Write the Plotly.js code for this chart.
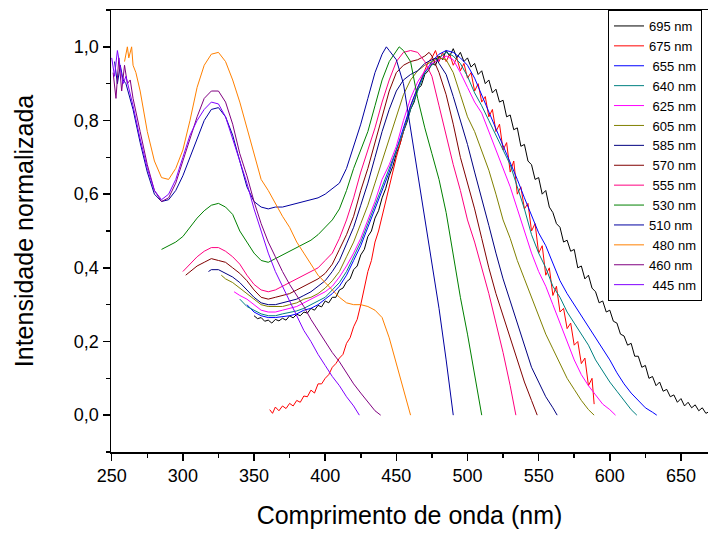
<!DOCTYPE html>
<html>
<head>
<meta charset="utf-8">
<script src="https://cdn.plot.ly/plotly-3.0.1.min.js"></script>
<style>html,body{margin:0;padding:0;background:#fff;}#chart{width:708px;height:534px;}</style>
</head>
<body>
<div id="chart"></div>
<script>
// Legend labels (emission wavelengths)
const names = ['695 nm','675 nm','\u00a0655 nm','\u00a0640 nm','\u00a0625 nm','\u00a0605 nm','\u00a0585 nm','\u00a0570 nm','\u00a0555 nm','\u00a0530 nm','510 nm','\u00a0480 nm','460 nm','\u00a0445 nm'];
const colors = ['#000000','#FF0000','#0000FF','#008080','#FF00FF','#808000','#000080','#800000','#FF0080','#008000','#0000A0','#FF8000','#800080','#8000FF'];

// 695 nm
const x695 = [350,352.5,355,357.5,360,362.5,365,367.5,370,372.5,375,377.5,380,382.5,385,387.5,390,392.5,395,397.5,400,402.5,405,407.5,410,412.5,415,417.5,420,422.5,425,427.5,430,432.5,435,437.5,440,442.5,445,447.5,450,452.5,455,457.5,460,462.5,465,467.5,470,472.5,475,477.5,480,482.5,485,487.5,490,492.5,495,497.5,500,502.5,505,507.5,510,512.5,515,517.5,520,522.5,525,527.5,530,532.5,535,537.5,540,542.5,545,547.5,550,552.5,555,557.5,560,562.5,565,567.5,570,572.5,575,577.5,580,582.5,585,587.5,590,592.5,595,597.5,600,602.5,605,607.5,610,612.5,615,617.5,620,622.5,625,627.5,630,632.5,635,637.5,640,642.5,645,647.5,650,652.5,655,657.5,660,662.5,665,667.5,670];
const y695 = [0.27,0.262,0.265,0.255,0.258,0.25,0.26,0.256,0.263,0.258,0.27,0.264,0.274,0.27,0.28,0.277,0.29,0.285,0.298,0.294,0.31,0.305,0.32,0.32,0.34,0.345,0.362,0.37,0.395,0.405,0.435,0.45,0.485,0.5,0.535,0.555,0.59,0.615,0.65,0.675,0.71,0.735,0.77,0.795,0.83,0.85,0.885,0.895,0.925,0.935,0.955,0.95,0.975,0.965,0.99,0.975,0.995,0.97,0.985,0.96,0.97,0.945,0.955,0.925,0.935,0.9,0.91,0.875,0.885,0.85,0.855,0.81,0.815,0.775,0.78,0.73,0.735,0.69,0.68,0.64,0.645,0.6,0.61,0.565,0.55,0.52,0.51,0.47,0.475,0.445,0.45,0.4,0.405,0.37,0.38,0.345,0.335,0.305,0.31,0.28,0.285,0.255,0.25,0.22,0.215,0.19,0.195,0.16,0.16,0.13,0.135,0.1,0.105,0.08,0.09,0.065,0.07,0.05,0.055,0.035,0.045,0.025,0.035,0.02,0.028,0.012,0.02,0.005,0.01];
// 675 nm
const x675 = [361,363,365,367.5,370,372.5,375,377.5,380,382.5,385,387.5,390,392.5,395,397.5,400,402.5,405,407.5,410,412.5,415,417.5,420,422.5,425,427.5,430,432.5,435,437.5,440,442.5,445,447.5,450,452.5,455,457.5,460,462.5,465,467.5,470,472.5,475,477.5,480,482.5,485,487.5,490,492.5,495,497.5,500,502.5,505,507.5,510,512.5,515,517.5,520,522.5,525,527.5,530,532.5,535,537.5,540,542.5,545,547.5,550,552.5,555,557.5,560,562.5,565,567.5,570,572.5,575,577.5,580,582.5,585,587.5,589];
const y675 = [0.015,0.005,0.022,0.012,0.025,0.018,0.032,0.025,0.04,0.035,0.052,0.05,0.068,0.06,0.085,0.085,0.1,0.11,0.13,0.14,0.155,0.165,0.195,0.21,0.24,0.26,0.3,0.345,0.39,0.42,0.47,0.5,0.54,0.585,0.62,0.66,0.70,0.735,0.77,0.81,0.84,0.865,0.89,0.915,0.94,0.96,0.97,0.99,0.96,0.985,0.96,0.98,0.95,0.97,0.935,0.955,0.915,0.93,0.88,0.9,0.85,0.865,0.81,0.83,0.77,0.79,0.72,0.74,0.66,0.69,0.6,0.62,0.56,0.575,0.5,0.52,0.44,0.46,0.38,0.4,0.325,0.35,0.28,0.29,0.235,0.25,0.19,0.2,0.14,0.155,0.08,0.1,0.03];
// 655 nm
const x655 = [345,350,355,360,365,370,375,380,385,390,395,400,405,410,415,420,425,430,435,440,445,450,455,460,465,470,475,480,485,490,495,500,505,510,515,520,525,530,535,540,545,550,555,560,565,570,575,580,585,590,595,600,605,610,615,620,625,630,633];
const y655 = [0.30,0.28,0.27,0.265,0.265,0.267,0.27,0.275,0.285,0.29,0.30,0.315,0.33,0.35,0.38,0.42,0.46,0.51,0.56,0.61,0.66,0.72,0.78,0.84,0.89,0.93,0.96,0.98,0.99,0.985,0.97,0.95,0.915,0.87,0.825,0.78,0.735,0.69,0.64,0.59,0.545,0.495,0.46,0.41,0.365,0.33,0.30,0.27,0.24,0.21,0.18,0.15,0.115,0.085,0.06,0.04,0.02,0.008,0.0];
// 640 nm
const x640 = [340,345,350,355,360,365,370,375,380,385,390,395,400,405,410,415,420,425,430,435,440,445,450,455,460,465,470,475,480,485,490,495,500,505,510,515,520,525,530,535,540,545,550,555,560,565,570,575,580,585,590,595,600,605,610,615,619];
const y640 = [0.315,0.295,0.285,0.275,0.27,0.27,0.275,0.278,0.283,0.29,0.30,0.31,0.32,0.34,0.36,0.39,0.43,0.47,0.52,0.57,0.62,0.67,0.72,0.77,0.83,0.88,0.93,0.95,0.97,0.985,0.975,0.955,0.92,0.875,0.84,0.80,0.76,0.72,0.68,0.62,0.56,0.49,0.44,0.40,0.35,0.32,0.28,0.25,0.22,0.19,0.15,0.12,0.09,0.065,0.04,0.015,0.0];
// 625 nm
const x625 = [336,340,345,350,355,360,365,370,375,380,385,390,395,400,405,410,415,420,425,430,435,440,445,450,455,460,465,470,475,480,485,490,495,500,505,510,515,520,525,530,535,540,545,550,555,560,565,570,575,580,585,590,595,600,604];
const y625 = [0.335,0.325,0.315,0.30,0.285,0.28,0.28,0.285,0.29,0.295,0.305,0.315,0.325,0.335,0.35,0.375,0.405,0.44,0.48,0.53,0.58,0.64,0.68,0.73,0.80,0.86,0.905,0.935,0.955,0.965,0.975,0.965,0.93,0.89,0.85,0.82,0.77,0.72,0.67,0.62,0.56,0.50,0.44,0.39,0.35,0.30,0.25,0.195,0.15,0.11,0.08,0.055,0.03,0.015,0.0];
// 605 nm
const x605 = [327,330,335,340,345,350,355,360,365,370,375,380,385,390,395,400,405,410,415,420,425,430,435,440,445,450,455,460,465,470,475,480,485,490,495,500,505,510,515,520,525,530,535,540,545,550,555,560,565,570,575,580,585,589];
const y605 = [0.38,0.37,0.36,0.345,0.33,0.315,0.30,0.295,0.295,0.295,0.30,0.305,0.315,0.32,0.33,0.345,0.365,0.39,0.43,0.47,0.52,0.57,0.63,0.69,0.75,0.81,0.87,0.91,0.935,0.95,0.96,0.97,0.965,0.93,0.87,0.81,0.77,0.72,0.665,0.60,0.53,0.48,0.42,0.37,0.32,0.27,0.22,0.18,0.14,0.10,0.07,0.04,0.015,0.0];
// 585 nm
const x585 = [318,320,325,330,335,340,345,350,355,360,365,370,375,380,385,390,395,400,405,410,415,420,425,430,435,440,445,450,455,460,465,470,475,478,480,485,490,495,500,505,510,515,520,525,530,535,540,545,550,555,560,563];
const y585 = [0.39,0.395,0.395,0.385,0.375,0.36,0.34,0.32,0.305,0.30,0.30,0.305,0.31,0.315,0.325,0.335,0.35,0.365,0.39,0.42,0.465,0.51,0.57,0.63,0.70,0.77,0.83,0.88,0.91,0.925,0.935,0.955,0.965,0.97,0.955,0.925,0.865,0.80,0.735,0.66,0.59,0.515,0.44,0.37,0.31,0.25,0.19,0.13,0.09,0.05,0.02,0.0];
// 570 nm
const x570 = [302,305,310,315,320,325,330,335,340,345,350,355,360,365,370,375,380,385,390,395,400,405,410,415,420,425,430,435,440,445,450,455,460,465,470,473,475,480,485,490,495,500,505,510,515,520,525,530,535,540,545,549];
const y570 = [0.38,0.39,0.405,0.415,0.425,0.42,0.415,0.40,0.385,0.365,0.34,0.32,0.315,0.32,0.325,0.33,0.34,0.35,0.36,0.37,0.385,0.41,0.45,0.49,0.54,0.61,0.67,0.74,0.81,0.88,0.93,0.95,0.96,0.965,0.975,0.985,0.975,0.93,0.87,0.79,0.70,0.63,0.56,0.48,0.40,0.33,0.27,0.21,0.15,0.09,0.04,0.0];
// 555 nm
const x555 = [300,305,310,315,320,325,330,335,340,345,350,355,360,365,370,375,380,385,390,395,400,405,410,415,420,425,430,435,440,445,450,455,460,465,470,475,480,485,490,495,500,505,510,515,520,525,530,534];
const y555 = [0.39,0.41,0.43,0.445,0.455,0.455,0.445,0.43,0.41,0.38,0.355,0.34,0.335,0.34,0.35,0.36,0.37,0.38,0.39,0.40,0.42,0.44,0.48,0.53,0.59,0.66,0.72,0.78,0.85,0.91,0.96,0.985,0.99,0.985,0.96,0.92,0.84,0.76,0.68,0.61,0.53,0.47,0.40,0.33,0.25,0.17,0.08,0.0];
// 530 nm
const x530 = [285,290,295,300,305,310,315,320,325,330,335,340,345,350,355,360,365,370,375,380,385,390,395,400,405,410,415,420,425,430,435,440,445,450,452,455,460,465,470,475,480,485,490,495,500,505,510];
const y530 = [0.45,0.46,0.47,0.485,0.51,0.535,0.555,0.57,0.575,0.565,0.545,0.50,0.47,0.44,0.42,0.415,0.425,0.435,0.445,0.455,0.465,0.475,0.49,0.51,0.53,0.56,0.61,0.67,0.72,0.77,0.84,0.91,0.96,0.99,1.0,0.99,0.96,0.86,0.78,0.71,0.64,0.55,0.43,0.32,0.22,0.11,0.0];
// 510 nm
const x510 = [252,254,256,258,260,265,270,275,280,285,290,295,300,305,310,315,320,325,330,335,340,345,350,355,360,365,370,375,380,385,390,395,400,405,410,415,420,425,430,435,440,443,445,450,455,460,465,470,475,480,485,490];
const y510 = [0.96,0.90,0.95,0.91,0.90,0.83,0.74,0.66,0.60,0.58,0.585,0.61,0.65,0.70,0.75,0.80,0.83,0.835,0.81,0.76,0.69,0.62,0.58,0.565,0.56,0.565,0.565,0.57,0.575,0.58,0.585,0.59,0.60,0.615,0.63,0.67,0.73,0.79,0.86,0.93,0.98,1.0,0.99,0.965,0.90,0.78,0.65,0.53,0.42,0.29,0.15,0.0];
// 480 nm
const x480 = [259,261,262,264,265,267,270,275,280,285,290,295,300,305,310,315,320,325,330,335,340,345,350,355,360,365,370,375,380,385,390,395,400,405,410,415,420,425,430,435,440,445,450,455,460];
const y480 = [0.96,1.0,0.97,1.0,0.95,0.93,0.88,0.77,0.69,0.645,0.64,0.67,0.72,0.80,0.89,0.95,0.98,0.985,0.96,0.91,0.85,0.78,0.71,0.64,0.61,0.575,0.54,0.51,0.47,0.44,0.41,0.38,0.36,0.34,0.32,0.305,0.30,0.30,0.295,0.285,0.265,0.21,0.14,0.07,0.0];
// 460 nm
const x460 = [251,253,255,257,259,261,263,265,270,275,280,285,290,295,300,305,310,315,320,325,330,335,340,345,350,355,360,365,370,375,380,385,390,395,400,405,410,415,420,425,430,435,439];
const y460 = [0.93,0.86,0.97,0.88,0.95,0.90,0.91,0.86,0.77,0.68,0.61,0.58,0.59,0.63,0.69,0.75,0.81,0.86,0.88,0.88,0.85,0.79,0.71,0.65,0.58,0.52,0.47,0.43,0.39,0.355,0.325,0.295,0.26,0.23,0.20,0.17,0.145,0.115,0.085,0.06,0.035,0.012,0.0];
// 445 nm
const x445 = [250,252,254,256,258,260,265,270,275,280,285,290,295,300,305,310,315,320,325,330,335,340,345,350,355,360,365,370,375,380,385,390,395,400,405,410,415,420,424];
const y445 = [0.97,0.92,0.99,0.95,0.90,0.92,0.84,0.75,0.67,0.61,0.585,0.60,0.64,0.70,0.76,0.80,0.83,0.85,0.845,0.81,0.75,0.69,0.63,0.56,0.50,0.44,0.39,0.35,0.31,0.27,0.23,0.20,0.165,0.135,0.105,0.08,0.05,0.025,0.0];

const xs = [x695,x675,x655,x640,x625,x605,x585,x570,x555,x530,x510,x480,x460,x445];
const ys = [y695,y675,y655,y640,y625,y605,y585,y570,y555,y530,y510,y480,y460,y445];

const xTicks = [250,300,350,400,450,500,550,600,650];
const yTicks = [0,0.2,0.4,0.6,0.8,1.0];

const traces = xs.map((x,i)=>({
  x: x, y: ys[i], type:'scatter', mode:'lines', name: names[i],
  line:{color: colors[i], width:1}
}));

const font = 'Arial, "Liberation Sans", sans-serif';
const layout = {
  width:708, height:534,
  margin:{l:111, r:0, t:10, b:82},
  paper_bgcolor:'#fff', plot_bgcolor:'#fff',
  separators:',.',
  font:{family:font, color:'#000'},
  showlegend:true,
  legend:{x:0.8325, y:1, xanchor:'left', yanchor:'top', bgcolor:'#fff', bordercolor:'#000', borderwidth:1, font:{size:13, family:font}, tracegroupgap:0},
  xaxis:{
    range:[249.5,669], tickvals:xTicks, ticks:'outside', ticklen:7, tickwidth:1.5, tickcolor:'#000',
    showline:true, linewidth:1.5, linecolor:'#000', mirror:true, showgrid:false, zeroline:false,
    minor:{tickvals:[275,325,375,425,475,525,575,625], ticks:'outside', ticklen:4, tickwidth:1.5, tickcolor:'#000'},
    tickfont:{size:18, family:font},
    title:{text:'Comprimento de onda (nm)', font:{size:25, family:font}, standoff:21}
  },
  yaxis:{
    range:[-0.1,1.1], tickvals:yTicks, tickformat:'.1f', ticks:'outside', ticklen:7, tickwidth:1.5, tickcolor:'#000',
    showline:true, linewidth:1.5, linecolor:'#000', mirror:false, showgrid:false, zeroline:false,
    minor:{tickvals:[-0.1,0.1,0.3,0.5,0.7,0.9,1.1], ticks:'outside', ticklen:4, tickwidth:1.5, tickcolor:'#000'},
    tickfont:{size:18, family:font},
    title:{text:'Intensidade normalizada', font:{size:25, family:font}, standoff:33}
  }
};
Plotly.newPlot('chart', traces, layout, {displayModeBar:false, staticPlot:true});
</script>
</body>
</html>
